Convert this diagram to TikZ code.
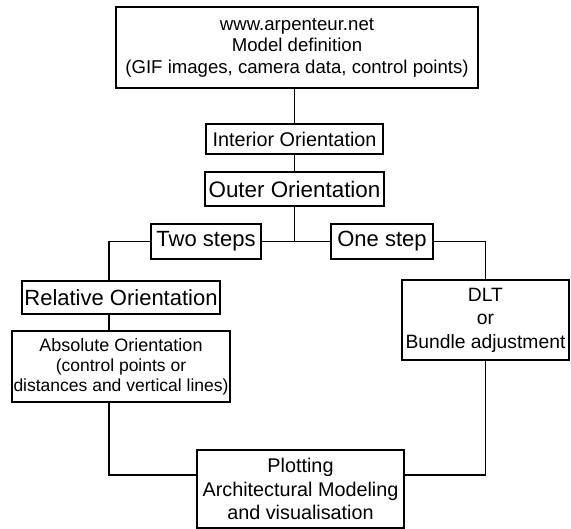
\documentclass[tikz,border=0pt]{standalone}
\usepackage{fontspec}
\setmainfont{Liberation Sans}
\usepackage{tikz}
\usetikzlibrary{positioning}

\begin{document}
\begin{tikzpicture}[x=1pt,y=-1pt,line width=1.5pt]
\tikzstyle{box}=[draw=black,line width=1.5pt,fill=none,text=black,inner sep=0pt,align=center]
\tikzset{font=\fontsize{20pt}{23.5pt}\selectfont}

        \useasboundingbox (0,0) rectangle (571,529);

        \node[box,minimum width=362pt,minimum height=81pt,font=\fontsize{18.6pt}{21.5pt}\selectfont] (web) at (297,47.5)
              {www.arpenteur.net\\Model definition\\(GIF images, camera data, control points)};
        \node[box,minimum width=177pt,minimum height=30pt,font=\fontsize{19.8pt}{22pt}\selectfont] (io) at (294.5,139) {Interior Orientation};
        \node[box,minimum width=179pt,minimum height=34pt,font=\fontsize{22.4pt}{24pt}\selectfont] (oo) at (294.5,189) {Outer Orientation};

        \node[box,minimum width=110pt,minimum height=35pt,font=\fontsize{22pt}{24pt}\selectfont] (two) at (206,241.5) {Two steps};
        \node[box,minimum width=102pt,minimum height=35pt,font=\fontsize{22pt}{24pt}\selectfont] (one) at (382,241.5) {One step};

        \node[box,minimum width=198pt,minimum height=33pt,font=\fontsize{22pt}{24pt}\selectfont] (ro) at (121,297.5) {Relative Orientation};
        \node[box,minimum width=218pt,minimum height=71pt,font=\fontsize{17.5pt}{20pt}\selectfont] (ao) at (121,366.5)
              {{\fontsize{18pt}{20pt}\selectfont Absolute Orientation}\\(control points or\\distances and vertical lines)};

        \node[box,minimum width=167pt,minimum height=80pt,font=\fontsize{19.3pt}{23.5pt}\selectfont] (dlt) at (485.5,320)
              {DLT\\or\\Bundle adjustment};

        \node[box,minimum width=207pt,minimum height=78pt,font=\fontsize{19.8pt}{23.5pt}\selectfont] (plot) at (300.5,489)
              {Plotting\\Architectural Modeling\\and visualisation};

        \coordinate (lcol) at (109,0);
        \coordinate (jn) at (oo.south |- two.east);

        \draw (io.north |- web.south) -- (io.north);
        \draw (io.south) -- (oo.north);
        \draw (oo.south) -- (jn);
        \draw (two.east) -- (one.west);
        \draw (two.west) -| (lcol |- ro.north);
        \draw (ro.south -| lcol) -- (ao.north -| lcol);
        \draw (ao.south -| lcol) |- ([yshift=14pt]plot.west);
        \draw (one.east) -| (dlt.north);
        \draw (dlt.south) |- ([yshift=14pt]plot.east);

\end{tikzpicture}
\end{document}
